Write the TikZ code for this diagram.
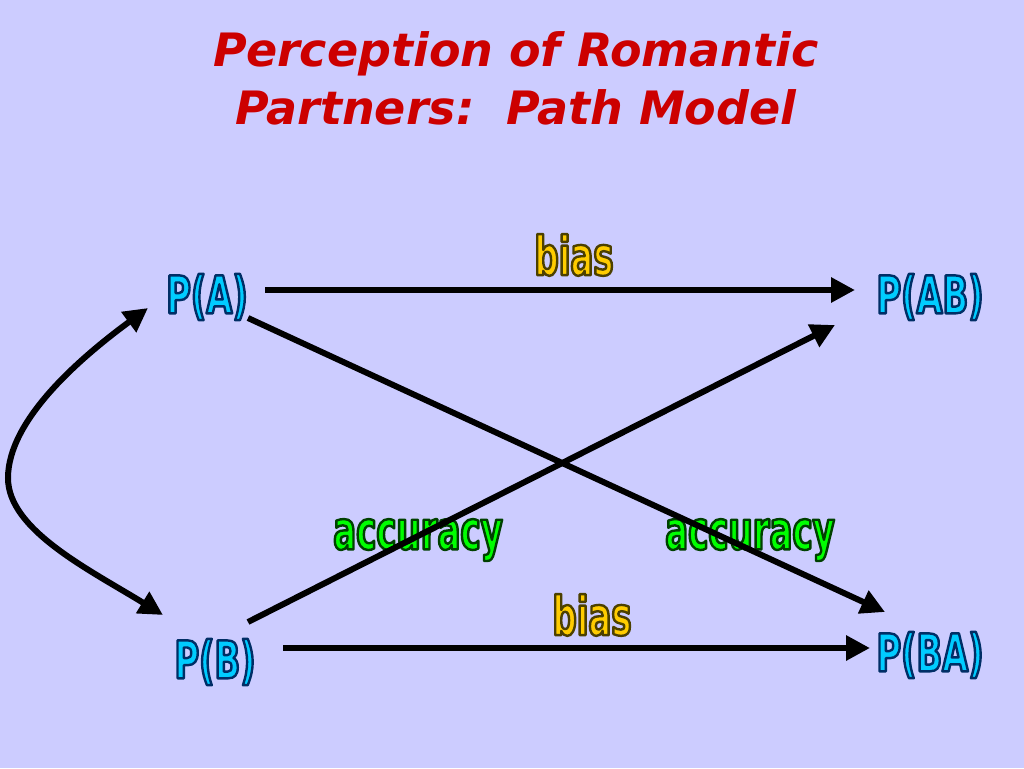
\documentclass[tikz,border=0pt]{standalone}
\usepackage{fontspec}
\usepackage{xcolor}
\usetikzlibrary{arrows.meta}
\setmainfont{DejaVu Sans}
\newfontfamily\titlefont{DejaVu Sans Bold Oblique}
\newfontfamily\labfont[FakeStretch=0.72]{DejaVu Sans Condensed Bold}
\newfontfamily\labfontn[FakeStretch=0.70]{DejaVu Sans Condensed Bold}
\definecolor{bgc}{RGB}{204,204,255}
\definecolor{titlered}{RGB}{204,0,0}
\definecolor{pcyan}{RGB}{0,204,255}
\definecolor{byel}{RGB}{255,204,0}
\definecolor{agreen}{RGB}{0,255,0}
\tikzset{
  pnode/.style={inner sep=0pt, font=\labfont\fontsize{52}{52}\selectfont},
  bnode/.style={inner sep=0pt, font=\labfontn\fontsize{54}{54}\selectfont},
  anode/.style={inner sep=0pt, font=\labfontn\fontsize{54}{54}\selectfont},
  arr/.style={line width=6pt, -{Triangle[length=24pt,width=24pt]}},
  darr/.style={line width=6pt, {Triangle[length=24pt,width=24pt]}-{Triangle[length=24pt,width=24pt]}},
}
\newcommand{\outltext}[3]{\textcolor{#1}{\special{pdf:literal direct 2 Tr 2.4 w 1 j #2 RG}#3\special{pdf:literal direct 0 Tr}}}
\newcommand{\ptext}[1]{\outltext{pcyan}{0 0.18 0.4}{#1}}
\newcommand{\btext}[1]{\outltext{byel}{0.3 0.25 0}{#1}}
\newcommand{\atext}[1]{\outltext{agreen}{0 0.25 0}{#1}}
\begin{document}
\begin{tikzpicture}[x=1pt,y=-1pt]
\fill[bgc] (0,0) rectangle (1024,768);
\useasboundingbox (0,0) rectangle (1024,768);
\node[text=titlered, font=\titlefont\fontsize{46}{58}\selectfont, align=center] (title) at (516,78) {Perception of Romantic\\Partners:\ \ Path Model};
\node[pnode] (PA) at (207,297) {\ptext{P(A)}};
\node[pnode] (PAB) at (930,297) {\ptext{P(AB)}};
\node[pnode] (PB) at (215,662) {\ptext{P(B)}};
\node[pnode] (PBA) at (930,655) {\ptext{P(BA)}};
\node[bnode] (bias1) at (574,255) {\btext{bias}};
\node[bnode] (bias2) at (592,615) {\btext{bias}};
\node[anode] (acc1) at (418,540) {\atext{accuracy}};
\node[anode] (acc2) at (750,540) {\atext{accuracy}};
\draw[arr] ([shift={(58,-7)}]PA.center) -- ([shift={(-75,-7)}]PAB.center);
\draw[arr] ([shift={(41,21)}]PA.center) -- ([shift={(-45,-43)}]PBA.center);
\draw[arr] ([shift={(33,-40)}]PB.center) -- ([shift={(-95,28)}]PAB.center);
\draw[arr] ([shift={(68,-14)}]PB.center) -- ([shift={(-60,-7)}]PBA.center);
\draw[darr] ([shift={(-59,11)}]PA.center) .. controls (80,358) and (8,420) .. (8,478) .. controls (8,530) and (90,570) .. ([shift={(-52,-47)}]PB.center);
\end{tikzpicture}
\end{document}
